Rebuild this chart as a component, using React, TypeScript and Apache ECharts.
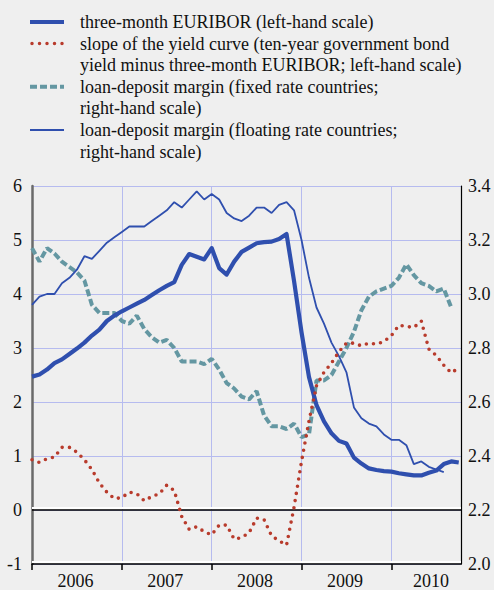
import React, { useEffect, useRef } from "react";
import * as echarts from "echarts";

// x = months since December 2005 (0 = Dec 2005)
const euribor = [
  2.47, 2.51, 2.6, 2.72, 2.79, 2.89, 2.99, 3.1, 3.23, 3.34, 3.5, 3.6,
  3.68, 3.75, 3.82, 3.89, 3.98, 4.07, 4.15, 4.22, 4.54, 4.74, 4.69, 4.64,
  4.85, 4.48, 4.36, 4.6, 4.78, 4.86, 4.94, 4.96, 4.97, 5.02, 5.11, 4.24,
  3.29, 2.46, 1.94, 1.64, 1.42, 1.28, 1.23, 0.97, 0.86, 0.77, 0.74, 0.72,
  0.71, 0.68, 0.66, 0.64, 0.64, 0.69, 0.73, 0.85, 0.9, 0.88,
];
const slope = [
  0.93, 0.88, 0.95, 0.98, 1.16, 1.16, 1.07, 0.93, 0.75, 0.5, 0.33, 0.21,
  0.23, 0.33, 0.3, 0.17, 0.25, 0.3, 0.46, 0.36, -0.12, -0.36, -0.31, -0.4,
  -0.46, -0.28, -0.28, -0.54, -0.51, -0.42, -0.15, -0.18, -0.48, -0.57, -0.65, 0.05,
  0.9, 1.65, 2.3, 2.55, 2.72, 2.93, 3.09, 3.09, 3.04, 3.09, 3.07, 3.12,
  3.23, 3.42, 3.4, 3.38, 3.5, 2.98, 2.86, 2.68, 2.54, 2.63,
];
const fixedMargin = [
  3.17, 3.12, 3.17, 3.15, 3.12, 3.1, 3.08, 3.05, 2.96, 2.93, 2.93, 2.93,
  2.9, 2.89, 2.92, 2.87, 2.84, 2.82, 2.83, 2.8, 2.75, 2.75, 2.75, 2.74,
  2.76, 2.72, 2.67, 2.65, 2.62, 2.61, 2.64, 2.55, 2.51, 2.51, 2.5, 2.52,
  2.47, 2.48, 2.68, 2.68, 2.7, 2.75, 2.8, 2.86, 2.94, 2.99, 3.01, 3.02,
  3.03, 3.06, 3.11, 3.07, 3.04, 3.03, 3.01, 3.02, 2.95,
];
const floatingMargin = [
  2.96, 2.99, 3.0, 3.0, 3.04, 3.06, 3.09, 3.14, 3.13, 3.16, 3.19, 3.21,
  3.23, 3.25, 3.25, 3.25, 3.27, 3.29, 3.31, 3.34, 3.32, 3.35, 3.38, 3.35,
  3.37, 3.35, 3.3, 3.28, 3.27, 3.29, 3.32, 3.32, 3.3, 3.33, 3.34, 3.31,
  3.2, 3.06, 2.95, 2.89, 2.82, 2.77, 2.71, 2.58, 2.54, 2.52, 2.51, 2.48,
  2.46, 2.46, 2.44, 2.37, 2.38, 2.36, 2.35, 2.34,
];
const yearLabels = ["2006", "2007", "2008", "2009", "2010"];
const yearBoundaries = [0, 12, 24, 36, 48];
const yearLabelCenters = [5.8, 17.8, 29.8, 41.8, 53.3];

const legendLines = [
  ["three-month EURIBOR (left-hand scale)"],
  [
    "slope of the yield curve (ten-year government bond",
    "yield minus three-month EURIBOR; left-hand scale)",
  ],
  ["loan-deposit margin (fixed rate countries;", "right-hand scale)"],
  ["loan-deposit margin (floating rate countries;", "right-hand scale)"],
];

const BLUE = "#2f4fae";
const RED = "#b83b2c";
const TEAL = "#6497a2";
const GRID = "#b6bbef";
const BG = "#efefef";
const FONT = "'Liberation Serif', 'Times New Roman', serif";

const toPairs = (arr: number[]) => arr.map((v, i) => [i, v]);

export default function App() {
  const ref = useRef<HTMLDivElement>(null);
  useEffect(() => {
    if (!ref.current) return;
    const chart = echarts.init(ref.current, null, { renderer: "svg" });

    const legendStyles = [
      { stroke: BLUE, lineWidth: 4, lineDash: null as any, lineCap: "butt" },
      { stroke: RED, lineWidth: 3.5, lineDash: [0, 7.5], lineCap: "round" },
      { stroke: TEAL, lineWidth: 4, lineDash: [7, 3], lineCap: "butt" },
      { stroke: BLUE, lineWidth: 1.8, lineDash: null as any, lineCap: "butt" },
    ];
    const graphics: any[] = [];
    const lh = 21.6;
    let row = 0;
    legendLines.forEach((lines, k) => {
      const y = 22 + row * lh;
      const st: any = { ...legendStyles[k] };
      if (!st.lineDash) delete st.lineDash;
      graphics.push({
        type: "line",
        shape: { x1: k === 1 ? 32 : 30, y1: y, x2: 64, y2: y },
        style: st,
        silent: true,
      });
      lines.forEach((t, j) => {
        graphics.push({
          type: "text",
          x: 80,
          y: y + j * lh,
          style: {
            text: t,
            fill: "#111",
            font: `18px ${FONT}`,
            textVerticalAlign: "middle",
            verticalAlign: "middle",
          },
          silent: true,
        });
      });
      row += lines.length;
    });

    chart.setOption({
      animation: false,
      backgroundColor: BG,
      grid: { left: 32, right: 33, top: 186, bottom: 24, containLabel: false },
      graphic: graphics,
      xAxis: {
        type: "value",
        min: 0,
        max: 57.3,
        interval: 12,
        axisLine: { show: true, onZero: false, lineStyle: { color: "#000", width: 1.5 } },
        axisTick: {
          show: true,
          customValues: yearBoundaries,
          length: 6,
          lineStyle: { color: "#000", width: 1.5 },
        },
        axisLabel: {
          customValues: yearLabelCenters,
          formatter: (v: number) => yearLabels[Math.min(4, Math.floor(v / 12))],
          color: "#111",
          fontFamily: FONT,
          fontSize: 18,
          margin: 8,
        },
        splitLine: { show: true, lineStyle: { color: GRID, width: 1 } },
      },
      yAxis: [
        {
          type: "value",
          min: -1,
          max: 6,
          interval: 1,
          position: "left",
          axisLine: { show: true, lineStyle: { color: "#6a6a6a", width: 2.5 } },
          axisTick: { show: false },
          axisLabel: { color: "#111", fontFamily: FONT, fontSize: 18, margin: 10 },
          splitLine: { show: true, lineStyle: { color: GRID, width: 1 } },
        },
        {
          type: "value",
          min: 2.0,
          max: 3.4,
          interval: 0.2,
          position: "right",
          axisLine: { show: true, lineStyle: { color: "#000", width: 1.2 } },
          axisTick: { show: false },
          axisLabel: {
            color: "#111",
            fontFamily: FONT,
            fontSize: 18,
            margin: 7,
            formatter: (v: number) => v.toFixed(1),
          },
          splitLine: { show: false },
        },
      ],
      series: [
        {
          name: "fixed",
          type: "line",
          yAxisIndex: 1,
          data: toPairs(fixedMargin),
          symbol: "none",
          lineStyle: { color: TEAL, width: 4, type: [7, 3] },
          z: 2,
        },
        {
          name: "floating",
          type: "line",
          yAxisIndex: 1,
          data: toPairs(floatingMargin),
          symbol: "none",
          lineStyle: { color: BLUE, width: 1.8 },
          z: 3,
        },
        {
          name: "euribor",
          type: "line",
          yAxisIndex: 0,
          data: toPairs(euribor),
          symbol: "none",
          lineStyle: { color: BLUE, width: 4.2, join: "round" },
          z: 4,
        },
        {
          name: "slope",
          type: "line",
          yAxisIndex: 0,
          data: toPairs(slope),
          symbol: "none",
          lineStyle: { color: RED, width: 3.6, type: [0, 7.3], cap: "round" },
          z: 5,
          markLine: {
            silent: true,
            symbol: "none",
            label: { show: false },
            data: [
              { yAxis: 0.04, lineStyle: { color: "#ffffff", width: 2, type: "solid" } },
              { yAxis: 0, lineStyle: { color: "#000", width: 1.5, type: "solid" } },
              { yAxis: -0.96, lineStyle: { color: "#ffffff", width: 2, type: "solid" } },
            ],
          },
        },
      ],
    });
    return () => chart.dispose();
  }, []);
  return (
    <div
      style={{ position: "absolute", left: 0, top: 0, width: 494, height: 590, background: BG }}
    >
      <div ref={ref} style={{ width: 494, height: 590 }} />
    </div>
  );
}
